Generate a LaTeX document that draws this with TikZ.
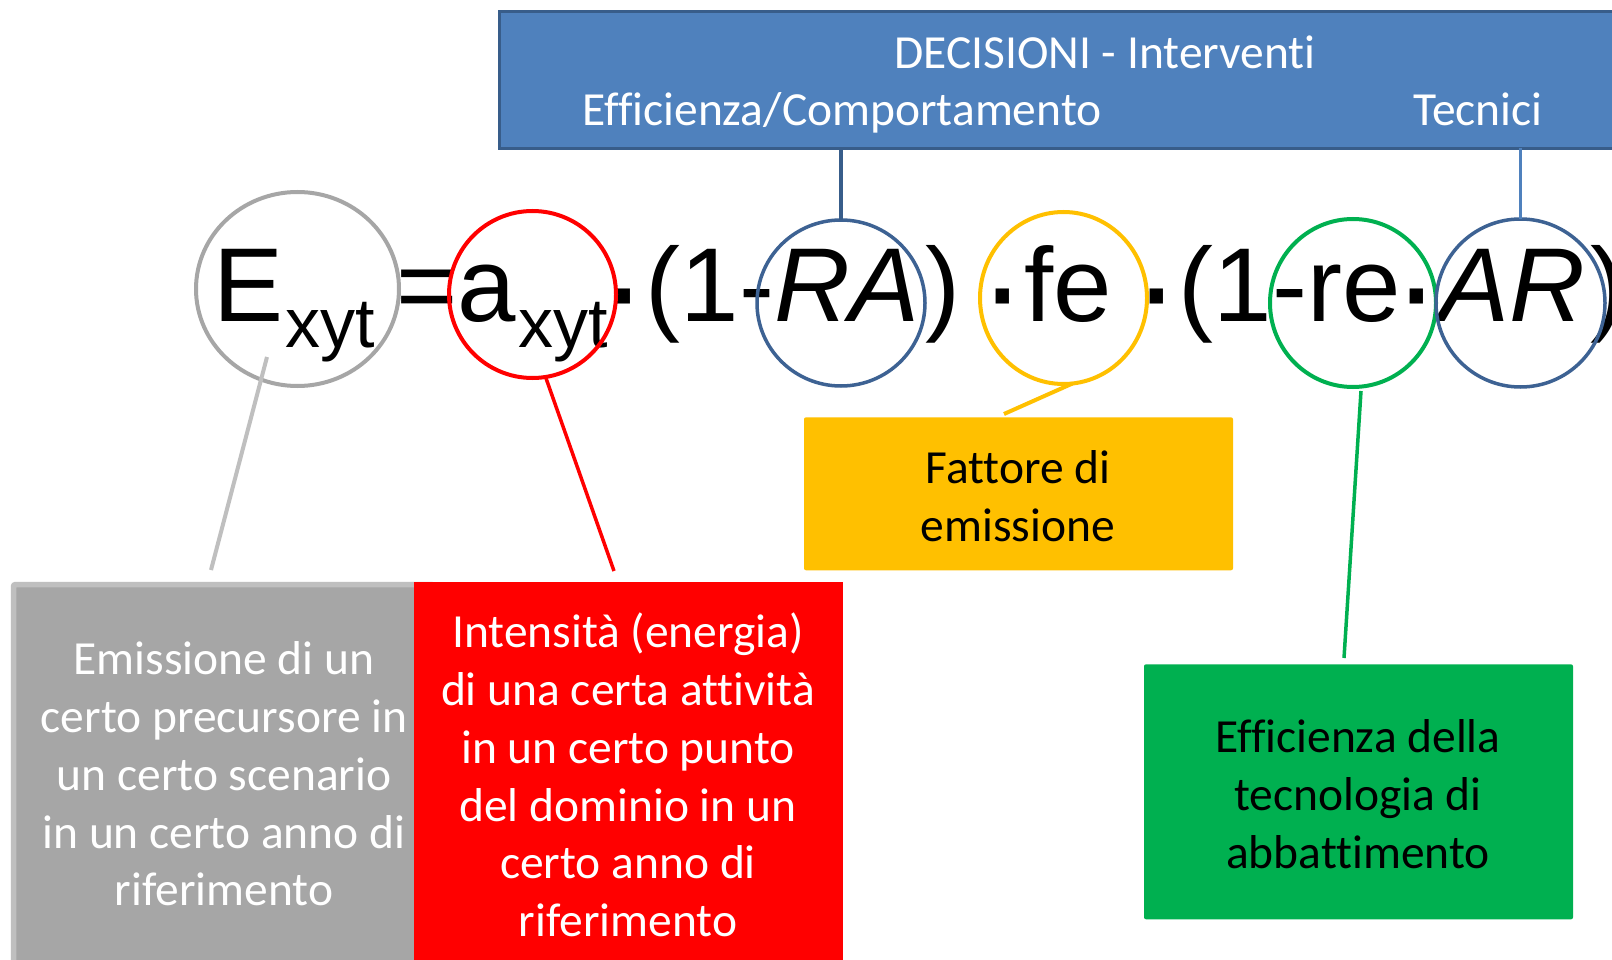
\documentclass[tikz,border=0pt]{standalone}
\usepackage{fontspec}
\setmainfont{Carlito}[Ligatures={TeX,NoCommon}]
\newfontfamily\formulafont{Liberation Sans}
\usetikzlibrary{shapes.geometric}
\definecolor{boxblue}{HTML}{4F81BD}
\definecolor{darkblue}{HTML}{385D8A}
\definecolor{ringblue}{HTML}{3D6293}
\definecolor{ringgray}{HTML}{A6A6A6}
\definecolor{lightgraytwo}{HTML}{BFBFBF}
\definecolor{myyellow}{HTML}{FFC000}
\definecolor{mygreen}{HTML}{00B050}
\definecolor{myred}{HTML}{FF0000}
\begin{document}
\begin{tikzpicture}[x=1pt,y=-1pt,
  ring/.style={ellipse, draw=#1, line width=4pt, inner sep=0pt, outer sep=0pt},
  fbig/.style={font=\formulafont\fontsize{105}{120}\selectfont, inner sep=0pt, anchor=base west},
  fsub/.style={font=\formulafont\fontsize{70}{80}\selectfont, inner sep=0pt, anchor=base west},
  fdot/.style={font=\formulafont\fontsize{140}{150}\selectfont, inner sep=0pt, anchor=north},
  boxtext/.style={font=\fontsize{47.5}{57.7}\selectfont, align=center, inner sep=0pt},
  toptext/.style={font=\fontsize{47.5}{57.7}\selectfont, text=white, inner sep=0pt, anchor=base},
  panel/.style={anchor=north west, inner sep=0pt, outer sep=0pt},
  conn/.style={line width=#1}
]
\useasboundingbox (0,0) rectangle (1612,960);
\clip (0,0) rectangle (1612,960);
\fill[white] (0,0) rectangle (1612,960);

% top decision box
\node[panel, draw=darkblue, fill=boxblue, line width=3pt, minimum width=1300pt, minimum height=137pt] (top) at (499.5,11.5) {};
\node[toptext] (tDec) at (1105,69) {DECISIONI - Interventi};
\node[toptext] (tEff) at (842,125.5) {Efficienza/Comportamento};
\node[toptext] (tTec) at (1478,125.5) {Tecnici};

% formula
\node[fbig] (fE) at (213,321.5) {E};
\node[fsub] (fs1) at (285,347) {xyt};
\node[fbig] (feq) at (396,321.5) {=a};
\node[fsub] (fs2) at (518,347) {xyt};
\node[fdot] (d1) at (624,288.5) {\makebox[0pt]{·}};
\node[fbig] (fp1) at (645.6,321.5) {(1-\textit{RA}};
\node[fbig] (fc1) at (925.6,321.5) {)};
\node[fdot] (d2) at (1002.5,288.5) {\makebox[0pt]{·}};
\node[fbig] (ffe) at (1024,321.5) {fe};
\node[fdot] (d3) at (1156.5,288.5) {\makebox[0pt]{·}};
\node[fbig] (fp2) at (1178.6,321.5) {(1-re};
\node[fdot] (d4) at (1417,288.5) {\makebox[0pt]{·}};
\node[fbig] (fAR) at (1439,321.5) {\textit{AR}};
\node[fbig] (fc2) at (1590.6,321.5) {)};

% rings
\node[ring=ringgray, minimum width=203pt, minimum height=194pt] (cE) at (297.5,289) {};
\node[ring=myred, minimum width=167pt, minimum height=167pt] (cA) at (532.5,294.5) {};
\node[ring=ringblue, line width=3.5pt, minimum width=168pt, minimum height=166pt] (cRA) at (841,303) {};
\node[ring=myyellow, minimum width=167pt, minimum height=172pt] (cFE) at (1063.5,298) {};
\node[ring=mygreen, minimum width=166pt, minimum height=168pt] (cRE) at (1353,303) {};
\node[ring=ringblue, line width=3.5pt, minimum width=169pt, minimum height=168pt] (cAR) at (1520.5,303) {};

% lines from the decision box
\draw[darkblue, conn=3.5pt] (cRA.north) -- (cRA.north |- top.south);
\draw[boxblue, conn=2.5pt] (cAR.north) -- (cAR.north |- top.south);

% bottom panels
\node[panel, draw=lightgraytwo, fill=ringgray, line width=5.5pt, rounded corners=2pt, minimum width=420pt, minimum height=420pt] (gbox) at (13.5,584.5) {};
\node[panel, fill=myred, minimum width=429pt, minimum height=420pt] (rbox) at (414,581.7) {};
\node[panel, fill=myyellow, rounded corners=2pt, minimum width=429pt, minimum height=153pt] (ybox) at (804,417.3) {};
\node[panel, fill=mygreen, rounded corners=2pt, minimum width=429pt, minimum height=255pt] (gnbox) at (1144,664.3) {};

\node[boxtext, text=white] (gtext) at (224,774) {Emissione di un\\certo precursore in\\un certo scenario\\in un certo anno di\\riferimento};
\node[boxtext, text=white] (rtext) at (628,775) {Intensità (energia)\\di una certa attività\\in un certo punto\\del dominio in un\\certo anno di\\riferimento};
\node[boxtext] (ytext) at (1018,496) {Fattore di\\emissione};
\node[boxtext] (gntext) at (1358,794) {Efficienza della\\tecnologia di\\abbattimento};

% connectors
\coordinate (gStart) at (267,357);
\coordinate (gEnd) at (211,570);
\coordinate (rEnd) at (614,571);
\coordinate (yEnd) at (1004,414);
\coordinate (gnStart) at (1361,391);
\coordinate (gnEnd) at (1344,658);
\draw[lightgraytwo, conn=4pt] (gStart) -- (gEnd);
\draw[myred, conn=3.5pt] (cA.-81.5) -- (rEnd);
\draw[myyellow, conn=4pt] (cFE.-84) -- (yEnd);
\draw[mygreen, conn=3.5pt] (gnStart) -- (gnEnd);
\end{tikzpicture}
\end{document}
